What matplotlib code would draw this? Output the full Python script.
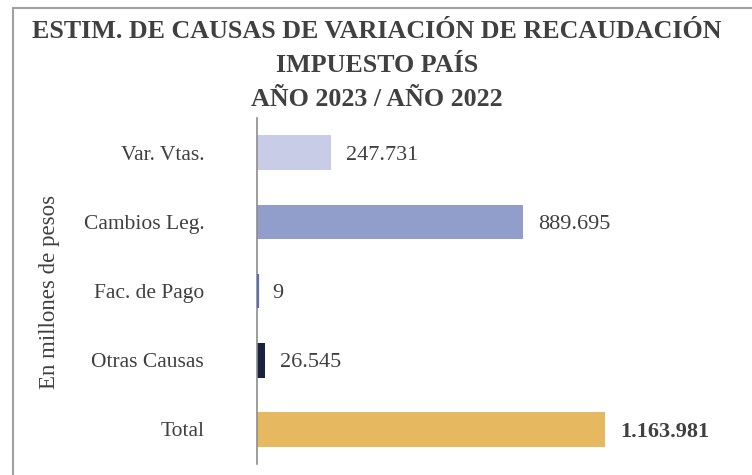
import matplotlib.pyplot as plt
from matplotlib.patches import Rectangle

plt.rcParams['font.family'] = ['Liberation Serif', 'DejaVu Serif']

categorias = ['Var. Vtas.', 'Cambios Leg.', 'Fac. de Pago', 'Otras Causas', 'Total']
valores = [247731, 889695, 9, 26545, 1163981]
etiquetas = ['247.731', '889.695', '9', '26.545', '1.163.981']
colores = ['#C8CCE6', '#919DCB', '#5A6DB5', '#1B2140', '#E6B961']

txt = '#404040'

fig = plt.figure(figsize=(7.52, 4.75), dpi=100)
ax = fig.add_axes([257/752, 1-464/475, 418/752, 346/475])

y = list(range(len(categorias)))
bars = ax.barh(y, valores, height=0.5, color=colores)
# the tiny bar still shows as a thin line
bars[2].set_edgecolor(colores[2])
bars[2].set_linewidth(3)
bars[2].set_zorder(3)

for yi, v, lab in zip(y, valores, etiquetas):
    bold = lab == '1.163.981'
    ax.annotate(lab, (v, yi), xytext=(11, -2), textcoords='offset points',
                va='center', ha='left', fontsize=16, color=txt,
                fontweight='bold' if bold else 'normal')

ax.set_xlim(0, 1400000)
ax.set_ylim(4.5, -0.5)
ax.set_yticks(y)
ax.set_yticklabels(categorias, fontsize=15.5, color=txt)
ax.tick_params(axis='y', length=0, pad=38)
ax.set_xticks([])
for s in ['top', 'right', 'bottom']:
    ax.spines[s].set_visible(False)
ax.spines['left'].set_color('#8C8C8C')
ax.spines['left'].set_linewidth(1.2)

fig.text(50/752, 1-292/475, 'En millones de pesos', rotation=90, fontsize=16.5,
         color=txt, ha='center', va='center')

titulos = ['ESTIM. DE CAUSAS DE VARIACIÓN DE RECAUDACIÓN', 'IMPUESTO PAÍS', 'AÑO 2023 / AÑO 2022']
ys = [32, 65, 99]
for t, yy in zip(titulos, ys):
    fig.text(377/752, 1-yy/475, t, fontsize=18.7, fontweight='bold', color=txt,
             ha='center', va='center')

# outer frame (cut at the right and bottom)
fig.patches.append(Rectangle((12.5/752, -0.1), 1.2, 1.1 - 8.5/475, transform=fig.transFigure,
                             fill=False, edgecolor='#A0A0A0', linewidth=1.5))

fig.savefig('out.png', dpi=100)
